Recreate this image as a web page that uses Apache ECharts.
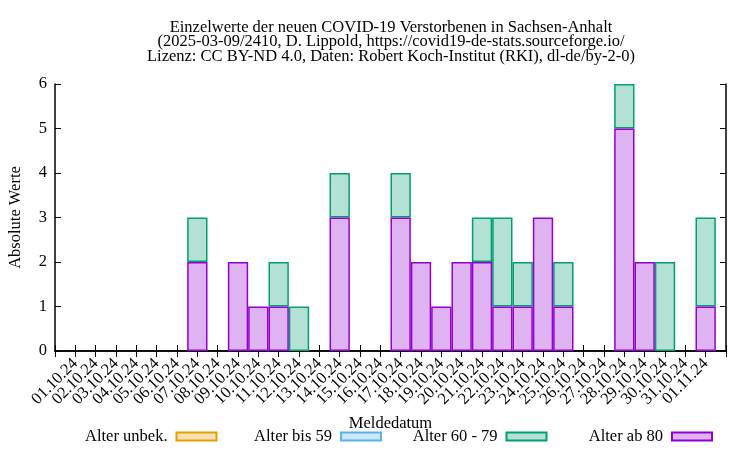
<!DOCTYPE html>
<html>
<head>
<meta charset="utf-8">
<script src="https://cdn.jsdelivr.net/npm/echarts@6/dist/echarts.min.js"></script>
<style>html,body{margin:0;padding:0;background:#fff}#c{width:750px;height:450px}</style>
</head>
<body>
<div id="c"></div>
<script>
const titleLines = [
  'Einzelwerte der neuen COVID-19 Verstorbenen in Sachsen-Anhalt',
  '(2025-03-09/2410, D. Lippold, https://covid19-de-stats.sourceforge.io/',
  'Lizenz: CC BY-ND 4.0, Daten: Robert Koch-Institut (RKI), dl-de/by-2-0)'
];
const categories = ['01.10.24','02.10.24','03.10.24','04.10.24','05.10.24','06.10.24','07.10.24','08.10.24','09.10.24','10.10.24','11.10.24','12.10.24','13.10.24','14.10.24','15.10.24','16.10.24','17.10.24','18.10.24','19.10.24','20.10.24','21.10.24','22.10.24','23.10.24','24.10.24','25.10.24','26.10.24','27.10.24','28.10.24','29.10.24','30.10.24','31.10.24','01.11.24'];
const alterUnbek = [0,0,0,0,0,0,0,0,0,0,0,0,0,0,0,0,0,0,0,0,0,0,0,0,0,0,0,0,0,0,0,0];
const alterBis59 = [0,0,0,0,0,0,0,0,0,0,0,0,0,0,0,0,0,0,0,0,0,0,0,0,0,0,0,0,0,0,0,0];
const alter60bis79 = [0,0,0,0,0,0,1,0,0,0,1,1,0,1,0,0,1,0,0,0,1,2,1,0,1,0,0,1,0,2,0,2];
const alterAb80 = [0,0,0,0,0,0,2,0,2,1,1,0,0,3,0,0,3,2,1,2,2,1,1,3,1,0,0,5,2,0,0,1];
const yTicks = [0,1,2,3,4,5,6];

const FONT = 'Liberation Serif';
const FS = 16.5;
const cats = [''].concat(categories, ['']);
const pad = arr => [null].concat(arr.map(v => v === 0 ? null : v), [null]);

const seriesDefs = [
  {name: 'Alter ab 80', data: alterAb80, border: '#9400d3', fill: '#dfb3f2', z: 5, axis: 0, stack: 'total'},
  {name: 'Alter 60 - 79', data: alter60bis79, border: '#009e73', fill: '#b3e2d5', z: 4, axis: 0, stack: 'total'},
  {name: 'Alter bis 59', data: alterBis59, border: '#56b4e9', fill: '#cce8f8', z: 3, axis: 0, stack: 'total'},
  {name: 'Alter unbek.', data: alterUnbek, border: '#e69f00', fill: '#f8e2b2', z: 2, axis: 1, stack: 'unbek'}
];

const legendPos = [
  {name: 'Alter unbek.', right: 750 - 217.5},
  {name: 'Alter bis 59', right: 750 - 382},
  {name: 'Alter 60 - 79', right: 750 - 547.5},
  {name: 'Alter ab 80', right: 750 - 713}
];

const tick = {inside: true, length: 6, lineStyle: {color: '#000', width: 1}};

const chart = echarts.init(document.getElementById('c'), null, {renderer: 'canvas'});
chart.setOption({
  animation: false,
  backgroundColor: '#fff',
  title: {
    text: titleLines.join('\n'),
    left: 391, top: 20, textAlign: 'center', padding: 0,
    textStyle: {fontFamily: FONT, fontSize: FS, fontWeight: 'normal', color: '#000', lineHeight: 14.5}
  },
  legend: legendPos.map(l => ({
    data: [l.name], right: l.right, top: 428, align: 'right', padding: 0,
    icon: 'rect', itemWidth: 40, itemHeight: 8, itemGap: 0,
    textStyle: {fontFamily: FONT, fontSize: FS, color: '#000', padding: [0, 4, 0, 0]},
    selectedMode: false
  })),
  grid: {left: 55, right: 24, top: 84, bottom: 99, outerBoundsMode: 'none', containLabel: false},
  xAxis: [
    {
      type: 'category', data: cats, boundaryGap: false, position: 'bottom',
      name: 'Meldedatum', nameLocation: 'middle', nameGap: 58,
      nameTextStyle: {fontFamily: FONT, fontSize: FS, color: '#000'},
      axisLine: {lineStyle: {color: '#000', width: 1.5}},
      axisTick: Object.assign({interval: 0}, tick),
      axisLabel: {interval: 0, rotate: 45, margin: 10, fontFamily: FONT, fontSize: FS, color: '#000'},
      splitLine: {show: false}
    },
    {
      type: 'category', data: cats, boundaryGap: false, position: 'top',
      axisLine: {show: true, lineStyle: {color: '#000', width: 1.5}},
      axisTick: Object.assign({show: true, interval: 0}, tick),
      axisLabel: {show: false}, splitLine: {show: false}
    }
  ],
  yAxis: [
    {
      type: 'value', min: 0, max: 6, interval: 1, position: 'left',
      name: 'Absolute Werte', nameLocation: 'middle', nameGap: 31, nameRotate: 90,
      nameTextStyle: {fontFamily: FONT, fontSize: FS, color: '#000'},
      axisLine: {show: true, lineStyle: {color: '#000', width: 1.5}},
      axisTick: Object.assign({show: true}, tick),
      axisLabel: {margin: 8, fontFamily: FONT, fontSize: FS, color: '#000',
        formatter: v => yTicks.includes(v) ? String(v) : ''},
      splitLine: {show: false}
    },
    {
      type: 'value', min: 0, max: 6, interval: 1, position: 'right',
      axisLine: {show: true, lineStyle: {color: '#000', width: 1.5}},
      axisTick: Object.assign({show: true}, tick),
      axisLabel: {show: false}, splitLine: {show: false}
    }
  ],
  series: seriesDefs.map(s => ({
    name: s.name, type: 'bar', stack: s.stack, data: pad(s.data),
    xAxisIndex: s.axis, yAxisIndex: 0, z: s.z,
    barWidth: '100%',
    itemStyle: {color: s.fill, borderColor: s.border, borderWidth: 1.5},
    emphasis: {disabled: true}
  }))
});
</script>
</body>
</html>
